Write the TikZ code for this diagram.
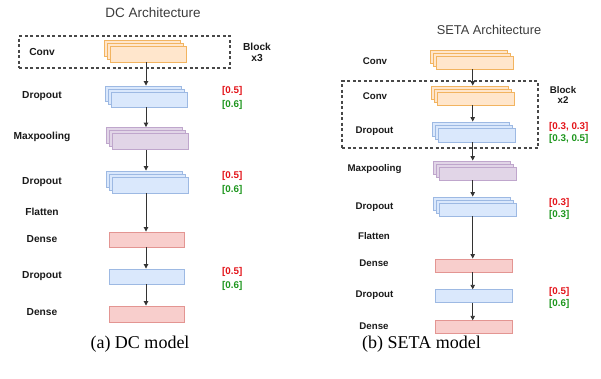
\documentclass[tikz,border=0pt]{standalone}
\usepackage{fontspec}
\setmainfont{Liberation Serif}
\newfontfamily\arial{Liberation Sans}
\usetikzlibrary{arrows.meta}
\definecolor{ofill}{HTML}{FFE6CC}\definecolor{odraw}{HTML}{F2B460}
\definecolor{bfill}{HTML}{DAE8FC}\definecolor{bdraw}{HTML}{9DB9E3}
\definecolor{pfill}{HTML}{E1D5E7}\definecolor{pdraw}{HTML}{BFA6CC}
\definecolor{rfill}{HTML}{F8CECC}\definecolor{rdraw}{HTML}{E39592}
\definecolor{redtxt}{HTML}{E3141A}\definecolor{greentxt}{HTML}{1E961E}
\definecolor{ink}{HTML}{1A1A1A}\definecolor{arrowc}{HTML}{333333}
\newcommand\layerstack[6]{%
  \node[#6, minimum width=#4pt, minimum height=#5pt] (#1c) at (#2-6,#3-6) {};
  \node[#6, minimum width=#4pt, minimum height=#5pt] (#1b) at (#2-3,#3-3) {};
  \node[#6, minimum width=#4pt, minimum height=#5pt] (#1) at (#2,#3) {};}
\tikzset{
  box/.style={draw, line width=0.9pt, inner sep=0pt},
  convbox/.style={box, fill=ofill, draw=odraw},
  dropbox/.style={box, fill=bfill, draw=bdraw},
  poolbox/.style={box, fill=pfill, draw=pdraw},
  densebox/.style={box, fill=rfill, draw=rdraw},
  lbl/.style={font=\arial\bfseries\fontsize{10.2}{12}\selectfont, text=ink, inner sep=0pt},
  lblb/.style={font=\arial\bfseries\fontsize{9.7}{11}\selectfont, text=ink, inner sep=0pt},
  redv/.style={font=\arial\bfseries\fontsize{9.8}{11}\selectfont, text=redtxt, anchor=west, inner sep=0pt},
  greenv/.style={font=\arial\bfseries\fontsize{9.8}{11}\selectfont, text=greentxt, anchor=west, inner sep=0pt},
  ttl/.style={font=\arial\fontsize{13.5}{15}\selectfont, text=ink!85, inner sep=0pt},
  captxt/.style={font=\fontsize{18}{21}\selectfont, text=black, inner sep=0pt},
  arr/.style={draw=arrowc, line width=0.9pt, -{Triangle[length=4.5pt,width=4.5pt]}},
  blockbox/.style={draw=ink!80, line width=1.1pt, dash pattern=on 3pt off 2.5pt},
}
\begin{document}
\begin{tikzpicture}[x=1pt,y=-1pt]
\useasboundingbox (0,0) rectangle (601,378);
% ---------------- DC ----------------
\node[ttl] (dct) at (153,13) {DC Architecture};
\coordinate (ax) at (146,0);
\node[blockbox, minimum width=211pt, minimum height=32pt, inner sep=0pt] (dcblock) at (124.5,52) {};
\layerstack{dconv}{148}{54}{76}{16}{convbox}
\layerstack{ddropa}{149.5}{99.5}{76}{15}{dropbox}
\layerstack{dpool}{150.5}{141.5}{76}{16}{poolbox}
\layerstack{ddropb}{150}{185}{76}{16}{dropbox}
\node[densebox, minimum width=75pt, minimum height=15pt] (ddensea) at (146.5,239.5) {};
\node[dropbox, minimum width=75pt, minimum height=15pt] (ddropc) at (146.5,276.5) {};
\node[densebox, minimum width=75pt, minimum height=16pt] (ddenseb) at (146.5,314) {};
\draw[arr] (dconv.south -| ax) -- (ddropac.north -| ax);
\draw[arr] (ddropa.south -| ax) -- (dpoolc.north -| ax);
\draw[arr] (dpool.south -| ax) -- (ddropbc.north -| ax);
\draw[arr] (ddropb.south -| ax) -- (ddensea.north -| ax);
\draw[arr] (ddensea.south -| ax) -- (ddropc.north -| ax);
\draw[arr] (ddropc.south -| ax) -- (ddenseb.north -| ax);
\node[lbl] (l1) at (42,52) {Conv};
\node[lbl] (l2) at (42,96) {Dropout};
\node[lbl] (l3) at (42,137) {Maxpooling};
\node[lbl] (l4) at (42,182) {Dropout};
\node[lbl] (l5) at (42,212) {Flatten};
\node[lbl] (l6) at (42,239) {Dense};
\node[lbl] (l7) at (42,276) {Dropout};
\node[lbl] (l8) at (42,312) {Dense};
\node[lbl, align=center] (dblk) at (257,52.5) {Block\\[-0.5pt]x3};
\node[redv] (dr1) at (222,91) {[0.5]};
\node[greenv] (dg1) at (222,105) {[0.6]};
\node[redv] (dr2) at (222,176) {[0.5]};
\node[greenv] (dg2) at (222,190) {[0.6]};
\node[redv] (dr3) at (222,272) {[0.5]};
\node[greenv] (dg3) at (222,285.5) {[0.6]};
\node[captxt] (capa) at (140,344.5) {(a) DC model};
% ---------------- SETA ----------------
\node[ttl, font=\arial\fontsize{12.8}{15}\selectfont] (st) at (489,30) {SETA Architecture};
\coordinate (bx) at (472.7,0);
\node[blockbox, minimum width=196pt, minimum height=67pt, inner sep=0pt] (sblock) at (440,114.5) {};
\layerstack{sconva}{475}{62.5}{77}{13}{convbox}
\layerstack{sconvb}{475.5}{98.5}{77}{13}{convbox}
\layerstack{sdropa}{476.5}{135}{77}{14}{dropbox}
\layerstack{spool}{477.5}{173.5}{77}{13}{poolbox}
\layerstack{sdropb}{477.5}{209.5}{77}{13}{dropbox}
\node[densebox, minimum width=77pt, minimum height=13pt] (sdensea) at (473.5,265.5) {};
\node[dropbox, minimum width=77pt, minimum height=12.5pt] (sdropc) at (473.5,296) {};
\node[densebox, minimum width=77pt, minimum height=12.5pt] (sdenseb) at (473.5,327) {};
\draw[arr] (sconva.south -| bx) -- (sconvbc.north -| bx);
\draw[arr] (sconvb.south -| bx) -- (sdropac.north -| bx);
\draw[arr] (sdropa.south -| bx) -- (spoolc.north -| bx);
\draw[arr] (spool.south -| bx) -- (sdropbc.north -| bx);
\draw[arr] (sdropb.south -| bx) -- (sdensea.north -| bx);
\draw[arr] (sdensea.south -| bx) -- (sdropc.north -| bx);
\draw[arr] (sdropc.south -| bx) -- (sdenseb.north -| bx);
\node[lblb] (m1) at (375,61) {Conv};
\node[lblb] (m2) at (375,96) {Conv};
\node[lblb] (m3) at (374.5,131) {Dropout};
\node[lblb] (m4) at (374.5,169) {Maxpooling};
\node[lblb] (m5) at (374.5,207) {Dropout};
\node[lblb] (m6) at (374,236) {Flatten};
\node[lblb] (m7) at (374,263) {Dense};
\node[lblb] (m8) at (374.5,295) {Dropout};
\node[lblb] (m9) at (374,326) {Dense};
\node[lblb, align=center] (sblk) at (563,95) {Block\\[-0.5pt]x2};
\node[redv] (sr1) at (549,127) {[0.3, 0.3]};
\node[greenv] (sg1) at (549,138.5) {[0.3, 0.5]};
\node[redv] (sr2) at (549,203) {[0.3]};
\node[greenv] (sg2) at (549,214.5) {[0.3]};
\node[redv] (sr3) at (549,292) {[0.5]};
\node[greenv] (sg3) at (549,304) {[0.6]};
\node[captxt] (capb) at (421.5,344.5) {(b) SETA model};
\end{tikzpicture}
\end{document}
